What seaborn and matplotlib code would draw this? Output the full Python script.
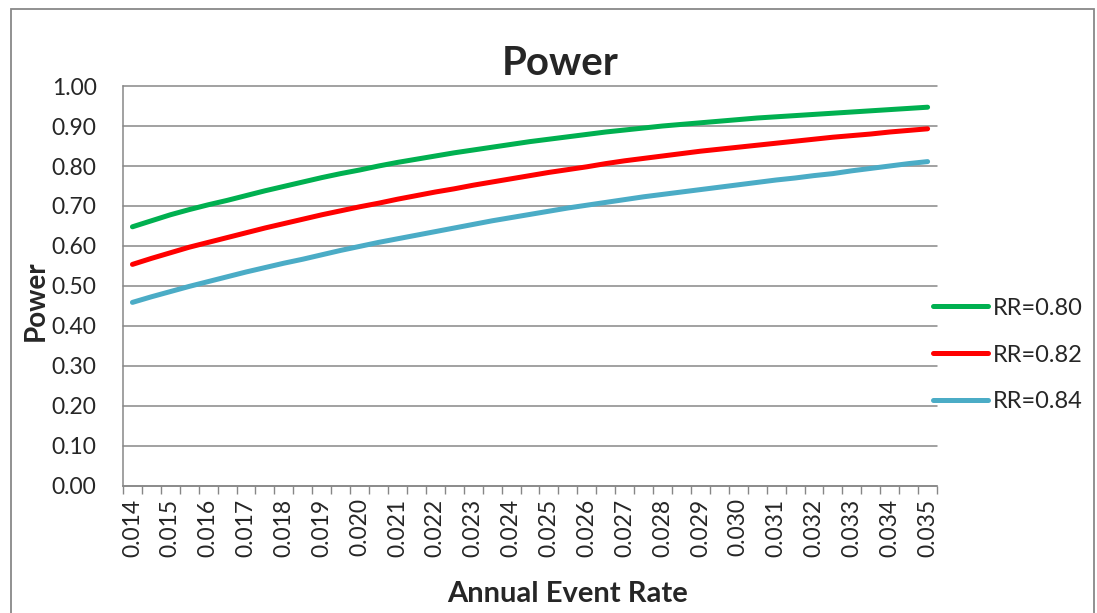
import pandas as pd
import seaborn as sns
import matplotlib.pyplot as plt
from matplotlib.patches import Rectangle

# annual event rate categories (one every 0.0005)
rates = [0.0140, 0.0145, 0.0150, 0.0155, 0.0160, 0.0165, 0.0170, 0.0175,
         0.0180, 0.0185, 0.0190, 0.0195, 0.0200, 0.0205, 0.0210, 0.0215,
         0.0220, 0.0225, 0.0230, 0.0235, 0.0240, 0.0245, 0.0250, 0.0255,
         0.0260, 0.0265, 0.0270, 0.0275, 0.0280, 0.0285, 0.0290, 0.0295,
         0.0300, 0.0305, 0.0310, 0.0315, 0.0320, 0.0325, 0.0330, 0.0335,
         0.0340, 0.0345, 0.0350]

power_rr080 = [0.648, 0.663, 0.678, 0.691, 0.703, 0.714, 0.726, 0.738, 0.749,
               0.760, 0.771, 0.781, 0.790, 0.800, 0.809, 0.817, 0.825, 0.833,
               0.840, 0.847, 0.854, 0.861, 0.867, 0.873, 0.879, 0.885, 0.890,
               0.895, 0.900, 0.904, 0.908, 0.912, 0.916, 0.920, 0.923, 0.926,
               0.929, 0.932, 0.935, 0.938, 0.941, 0.944, 0.947]
power_rr082 = [0.554, 0.569, 0.583, 0.597, 0.609, 0.621, 0.633, 0.645, 0.656,
               0.667, 0.678, 0.688, 0.698, 0.707, 0.717, 0.726, 0.735, 0.743,
               0.752, 0.760, 0.768, 0.776, 0.784, 0.791, 0.798, 0.806, 0.813,
               0.819, 0.825, 0.831, 0.837, 0.842, 0.847, 0.852, 0.857, 0.862,
               0.867, 0.872, 0.876, 0.880, 0.885, 0.889, 0.893]
power_rr084 = [0.459, 0.473, 0.486, 0.499, 0.511, 0.523, 0.535, 0.546, 0.557,
               0.567, 0.578, 0.589, 0.599, 0.609, 0.618, 0.627, 0.636, 0.645,
               0.654, 0.663, 0.671, 0.679, 0.687, 0.695, 0.702, 0.709, 0.716,
               0.723, 0.729, 0.735, 0.741, 0.747, 0.753, 0.759, 0.765, 0.770,
               0.776, 0.781, 0.788, 0.794, 0.800, 0.806, 0.811]

series_names = ["RR=0.80", "RR=0.82", "RR=0.84"]
series_colors = ["#00B050", "#FF0000", "#4BACC6"]
y_ticks = [0.0, 0.1, 0.2, 0.3, 0.4, 0.5, 0.6, 0.7, 0.8, 0.9, 1.0]
x_labels = ["0.014", "0.015", "0.016", "0.017", "0.018", "0.019", "0.020",
            "0.021", "0.022", "0.023", "0.024", "0.025", "0.026", "0.027",
            "0.028", "0.029", "0.030", "0.031", "0.032", "0.033", "0.034",
            "0.035"]

# long format for seaborn
frames = []
for name, vals in zip(series_names, [power_rr080, power_rr082, power_rr084]):
    frames.append(pd.DataFrame({"rate": rates, "power": vals, "series": name}))
df = pd.concat(frames, ignore_index=True)

sns.set_style("white")
plt.rcParams["font.family"] = ["Lato", "DejaVu Sans"]

fig = plt.figure(figsize=(10.97, 6.13), dpi=100)
ax = fig.add_axes([0.1121, 0.2072, 0.8542 - 0.1121, 0.8597 - 0.2072])

sns.lineplot(data=df, x="rate", y="power", hue="series",
             palette=dict(zip(series_names, series_colors)),
             linewidth=3.6, solid_capstyle="round", ax=ax)

grid_col = "#878787"
half = 0.00025
ax.set_xlim(rates[0] - half, rates[-1] + half)
ax.set_ylim(0, 1.0)
ax.set_yticks(y_ticks)
ax.set_yticklabels([f"{v:.2f}" for v in y_ticks], fontsize=16.5)
ax.yaxis.grid(True, color=grid_col, linewidth=1.1)
for gl in ax.get_ygridlines():
    gl.set_clip_on(False)
ax.set_axisbelow(True)

label_pos = rates[::2]
ax.set_xticks(label_pos)
ax.set_xticklabels(x_labels, rotation=90, fontsize=16.5)
ax.set_xticks([r - half for r in rates] + [rates[-1] + half], minor=True)
ax.tick_params(axis="x", which="major", length=0, pad=9)
ax.tick_params(axis="x", which="minor", length=6, width=1, color=grid_col,
               direction="out", bottom=True)
ax.tick_params(axis="y", length=0, pad=19)

for side in ["top", "right"]:
    ax.spines[side].set_visible(False)
for side in ["left", "bottom"]:
    ax.spines[side].set_color(grid_col)
    ax.spines[side].set_linewidth(1.1)

ax.set_xlabel("")
ax.set_ylabel("")
fig.text(568 / 1097, 1 - 602 / 613, "Annual Event Rate", fontsize=21,
         fontweight="bold", ha="center", va="baseline")
fig.text(36 / 1097, 1 - 301 / 613, "Power", fontsize=20, fontweight="bold",
         rotation=90, ha="center", va="center")
fig.text(560 / 1097, 1 - 75 / 613, "Power", fontsize=29, fontweight="bold",
         ha="center", va="baseline")

handles, labels = ax.get_legend_handles_labels()
ax.legend(handles, labels, loc="center left", frameon=False, fontsize=17,
          bbox_to_anchor=(933 / 1097, 1 - 355 / 613),
          bbox_transform=fig.transFigure, borderaxespad=0, borderpad=0,
          handlelength=2.35, handletextpad=0.2, labelspacing=1.1)

# outer chart frame
fig.patches.append(Rectangle((11 / 1097, -0.05), (1094 - 11) / 1097,
                             1 - 9 / 613 + 0.05, transform=fig.transFigure,
                             fill=False, edgecolor="#888888", linewidth=1.3))

fig.savefig("out.png", dpi=100)
